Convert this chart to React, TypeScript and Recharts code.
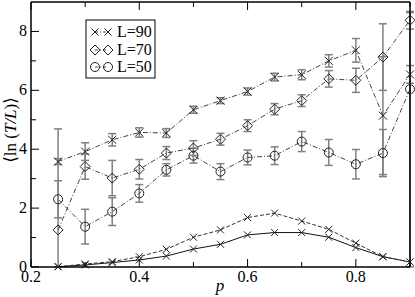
import React from "react";
import { LineChart, Line, XAxis, YAxis, ErrorBar } from "recharts";

const P = [0.25, 0.3, 0.35, 0.4, 0.45, 0.5, 0.55, 0.6, 0.65, 0.7, 0.75, 0.8, 0.85, 0.9];

const L90 = [3.58, 3.92, 4.32, 4.57, 4.55, 5.34, 5.65, 5.96, 6.45, 6.53, 7.0, 7.36, 5.14, 6.54];
const E90 = [0.1, 0.3, 0.21, 0.16, 0.15, 0.12, 0.1, 0.12, 0.13, 0.17, 0.21, 0.4, 2.0, 0.3];

const L70 = [1.26, 3.41, 3.02, 3.32, 3.87, 4.04, 4.34, 4.8, 5.36, 5.65, 6.39, 6.34, 7.13, 8.38];
const E70: (number | number[])[] = [[1.26, 3.43], 0.43, 0.6, 0.33, 0.22, 0.25, 0.2, 0.2, 0.19, 0.2, 0.28, 0.41, 1.13, 0.3];

const L50 = [2.3, 1.37, 1.88, 2.5, 3.3, 3.78, 3.24, 3.72, 3.78, 4.26, 3.89, 3.49, 3.87, 6.04];
const E50: (number | number[])[] = [0.63, 0.59, 0.47, 0.3, 0.21, 0.25, 0.27, 0.25, 0.3, 0.34, 0.44, 0.5, 0.8, [6.04, 2.6]];

const LOW_DASHED = [0.01, 0.1, 0.18, 0.35, 0.6, 1.01, 1.26, 1.68, 1.83, 1.56, 1.28, 0.81, 0.35, 0.17];
const LOW_SOLID = [0.01, 0.07, 0.15, 0.24, 0.37, 0.61, 0.77, 1.09, 1.17, 1.17, 1.01, 0.66, 0.35, 0.17];

const X_TICKS = [0.2, 0.3, 0.4, 0.5, 0.6, 0.7, 0.8, 0.9];
const Y_TICKS = [0, 1, 2, 3, 4, 5, 6, 7, 8, 9];

const data = P.map((p, i) => ({
  p,
  l90: L90[i],
  e90: E90[i],
  l70: L70[i],
  e70: E70[i],
  l50: L50[i],
  e50: E50[i],
  lowD: LOW_DASHED[i],
  lowS: LOW_SOLID[i],
}));

const FONT = "'Liberation Serif', 'DejaVu Serif', serif";
const MARK = "#222";

const crossShape = (cx: number, cy: number, r: number, key?: string) => (
  <g key={key} stroke={MARK} strokeWidth={1}>
    <line x1={cx - r} y1={cy - r} x2={cx + r} y2={cy + r} />
    <line x1={cx - r} y1={cy + r} x2={cx + r} y2={cy - r} />
  </g>
);
const diamondShape = (cx: number, cy: number, key?: string) => (
  <path
    key={key}
    d={`M${cx},${cy - 5} L${cx + 5},${cy} L${cx},${cy + 5} L${cx - 5},${cy} Z`}
    fill="none"
    stroke={MARK}
    strokeWidth={1}
  />
);
const circleShape = (cx: number, cy: number, key?: string) => (
  <circle key={key} cx={cx} cy={cy} r={4.5} fill="none" stroke={MARK} strokeWidth={1} />
);

const isMajorX = (v: number) => Math.round(v * 10) % 2 === 0;
const isMajorY = (v: number) => Math.round(v) % 2 === 0;

const BottomTick = ({ x, y, payload }: any) => {
  const v = payload.value;
  const major = isMajorX(v);
  return (
    <g>
      <line x1={x} y1={y} x2={x} y2={y - (major ? 8 : 5)} stroke="#000" strokeWidth={1} />
      {major && (
        <text x={x} y={y + 15} textAnchor="middle" fontFamily={FONT} fontSize={16} fill="#000">
          {v.toFixed(1)}
        </text>
      )}
    </g>
  );
};

const TopTick = ({ x, y, payload }: any) => {
  const major = isMajorX(payload.value);
  return <line x1={x} y1={y} x2={x} y2={y + (major ? 8 : 5)} stroke="#000" strokeWidth={1} />;
};

const LeftTick = ({ x, y, payload }: any) => {
  const v = payload.value;
  if (v === 9) return <g />;
  const major = isMajorY(v);
  return (
    <g>
      <line x1={x} y1={y} x2={x + (major ? 8 : 5)} y2={y} stroke="#000" strokeWidth={1} />
      {major && (
        <text x={x - 4} y={y + 5} textAnchor="end" fontFamily={FONT} fontSize={16} fill="#000">
          {v}
        </text>
      )}
    </g>
  );
};

const RightTick = ({ x, y, payload }: any) => {
  const v = payload.value;
  if (v === 9) return <g />;
  const major = isMajorY(v);
  return <line x1={x} y1={y} x2={x - (major ? 8 : 5)} y2={y} stroke="#000" strokeWidth={1} />;
};

const legendRows = [
  { label: "L=90", shape: "cross", y: 32 },
  { label: "L=70", shape: "diamond", y: 50 },
  { label: "L=50", shape: "circle", y: 67 },
];

const drawShape = (shape: string, cx: number, cy: number) =>
  shape === "cross" ? crossShape(cx, cy, 3.5) : shape === "diamond" ? diamondShape(cx, cy) : circleShape(cx, cy);

const axisLine = { stroke: "#000", strokeWidth: 1.5 };

export default function App() {
  return (
    <div style={{ position: "absolute", left: 0, top: 0, width: 415, height: 297, background: "#fff" }}>
      <LineChart width={415} height={297} data={data} margin={{ top: 1, right: 4, bottom: 29, left: 30 }}>
        <XAxis
          dataKey="p"
          type="number"
          domain={[0.2, 0.9]}
          ticks={X_TICKS}
          interval={0}
          height={1}
          tickSize={0}
          tickMargin={0}
          tick={<BottomTick />}
          axisLine={axisLine}
        />
        <XAxis
          xAxisId="top"
          dataKey="p"
          orientation="top"
          type="number"
          domain={[0.2, 0.9]}
          allowDataOverflow
          ticks={X_TICKS}
          interval={0}
          height={1}
          tickSize={0}
          tickMargin={0}
          tick={<TopTick />}
          axisLine={axisLine}
        />
        <YAxis
          type="number"
          domain={[0, 9]}
          ticks={Y_TICKS}
          interval={0}
          width={1}
          tickSize={0}
          tickMargin={0}
          tick={<LeftTick />}
          axisLine={axisLine}
        />
        <YAxis
          yAxisId="right"
          orientation="right"
          type="number"
          domain={[0, 9]}
          ticks={Y_TICKS}
          interval={0}
          width={1}
          tickSize={0}
          tickMargin={0}
          tick={<RightTick />}
          axisLine={axisLine}
        />

        <Line
          dataKey="lowS"
          stroke="#111"
          strokeWidth={1}
          isAnimationActive={false}
          dot={(pr: any) => crossShape(pr.cx, pr.cy, 3.5, `s-${pr.index}`)}
        />
        <Line
          dataKey="lowD"
          stroke="#333"
          strokeWidth={1}
          strokeDasharray="4 2"
          isAnimationActive={false}
          dot={(pr: any) => crossShape(pr.cx, pr.cy, 3.5, `d-${pr.index}`)}
        />
        <Line
          dataKey="l50"
          stroke="#444"
          strokeWidth={1}
          strokeDasharray="5 2 1 2"
          isAnimationActive={false}
          dot={(pr: any) => circleShape(pr.cx, pr.cy, `c-${pr.index}`)}
        >
          <ErrorBar dataKey="e50" direction="y" width={4} stroke="#808080" strokeWidth={1.5} />
        </Line>
        <Line
          dataKey="l70"
          stroke="#444"
          strokeWidth={1}
          strokeDasharray="5 2 1 2"
          isAnimationActive={false}
          dot={(pr: any) => diamondShape(pr.cx, pr.cy, `m-${pr.index}`)}
        >
          <ErrorBar dataKey="e70" direction="y" width={4} stroke="#808080" strokeWidth={1.5} />
        </Line>
        <Line
          dataKey="l90"
          stroke="#444"
          strokeWidth={1}
          strokeDasharray="5 2 1 2"
          isAnimationActive={false}
          dot={(pr: any) => crossShape(pr.cx, pr.cy, 4, `x-${pr.index}`)}
        >
          <ErrorBar dataKey="e90" direction="y" width={4} stroke="#808080" strokeWidth={1.5} />
        </Line>
      </LineChart>

      <svg
        width={415}
        height={297}
        style={{ position: "absolute", left: 0, top: 0, pointerEvents: "none" }}
      >
        <rect x={86} y={20} width={69} height={58} fill="#fff" stroke="#000" strokeWidth={1} />
        {legendRows.map((r) => (
          <g key={r.label}>
            <line x1={95} y1={r.y} x2={108} y2={r.y} stroke="#444" strokeDasharray="3 2 1 2" />
            {drawShape(r.shape, 95, r.y)}
            {drawShape(r.shape, 108, r.y)}
            <text x={117} y={r.y + 5} fontFamily={FONT} fontSize={16} fill="#000">
              {r.label}
            </text>
          </g>
        ))}
        <text
          transform="translate(16,130) rotate(-90)"
          textAnchor="middle"
          fontFamily={FONT}
          fontSize={17}
          fill="#000"
        >
          {"⟨ln ("}
          <tspan fontStyle="italic">T/L</tspan>
          {")⟩"}
        </text>
        <text x={220} y={291} textAnchor="middle" fontFamily={FONT} fontSize={17} fontStyle="italic" fill="#000">
          p
        </text>
      </svg>
    </div>
  );
}
